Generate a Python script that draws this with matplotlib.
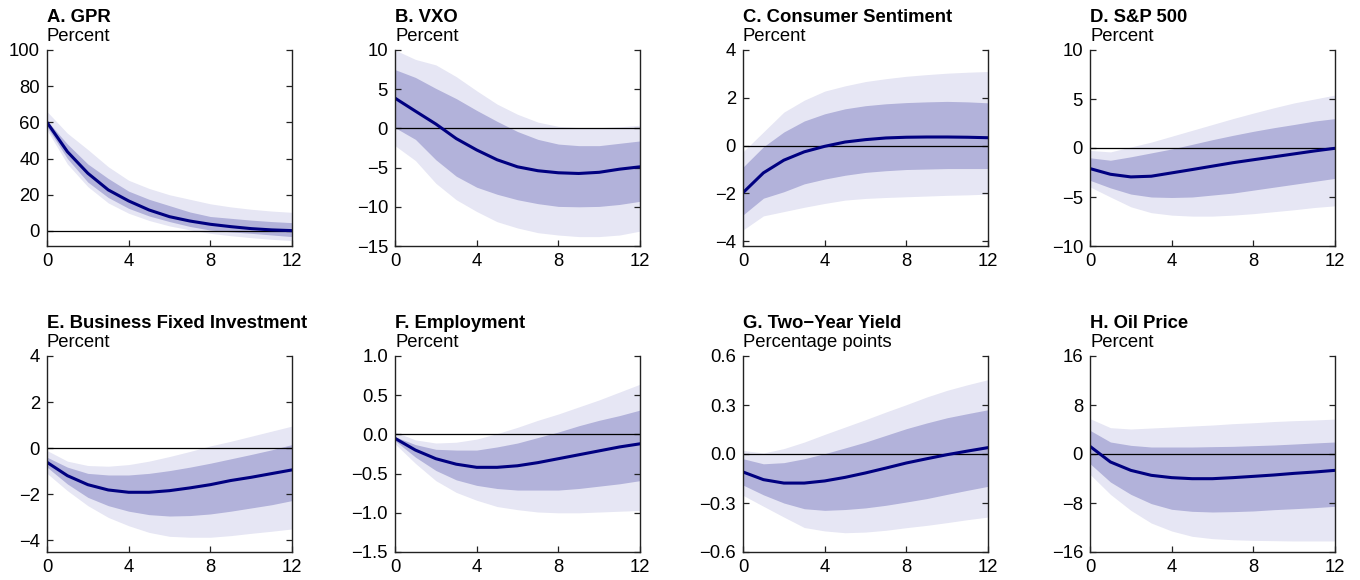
import numpy as np
import matplotlib
matplotlib.use("Agg")
import matplotlib.pyplot as plt
from matplotlib.ticker import FuncFormatter

plt.rcParams['font.family'] = ['Liberation Sans', 'DejaVu Sans']

horizon = list(range(13))

# A. GPR
gpr_med = [60, 43.8, 31.9, 22.7, 16.6, 11.6, 7.9, 5.5, 3.7, 2.4, 1.3, 0.6, 0.2]
gpr_in_hi = [61, 48, 37, 29, 22, 17.5, 14, 10.5, 8, 7, 6, 5.2, 4.6]
gpr_in_lo = [57.6, 40, 27, 18.5, 12.5, 8.3, 5.2, 2.5, 0.5, -0.5, -1.3, -2.2, -3.1]
gpr_out_hi = [66, 54, 45, 35.5, 28, 23.5, 20, 17.5, 15, 13.3, 12, 11, 10.3]
gpr_out_lo = [55.8, 37, 24.5, 15.5, 9.8, 5.8, 2.8, 0.6, -1.3, -2.6, -3.7, -4.6, -5.3]

# B. VXO
vxo_med = [3.86, 2.2, 0.56, -1.3, -2.75, -4.0, -4.9, -5.4, -5.66, -5.75, -5.6, -5.2, -4.9]
vxo_in_hi = [7.5, 6.5, 5.1, 3.8, 2.3, 0.9, -0.4, -1.4, -2.0, -2.2, -2.2, -1.9, -1.6]
vxo_in_lo = [0.1, -1.4, -4.0, -6.1, -7.5, -8.4, -9.1, -9.6, -9.95, -10.0, -9.95, -9.7, -9.3]
vxo_out_hi = [10.0, 8.8, 8.1, 6.6, 4.8, 3.1, 1.8, 0.8, 0.26, 0.1, 0.1, 0.2, 0.4]
vxo_out_lo = [-2.2, -4.1, -7.0, -9.1, -10.6, -11.9, -12.7, -13.3, -13.6, -13.8, -13.8, -13.6, -13.1]

# C. Consumer Sentiment
sent_med = [-1.97, -1.14, -0.61, -0.26, -0.03, 0.15, 0.25, 0.32, 0.35, 0.36, 0.36, 0.35, 0.33]
sent_in_hi = [-0.9, -0.05, 0.57, 1.03, 1.33, 1.54, 1.67, 1.75, 1.8, 1.83, 1.85, 1.83, 1.79]
sent_in_lo = [-2.9, -2.2, -1.93, -1.6, -1.4, -1.24, -1.12, -1.05, -1.0, -0.98, -0.96, -0.96, -0.96]
sent_out_hi = [-0.26, 0.57, 1.4, 1.9, 2.28, 2.5, 2.68, 2.8, 2.9, 2.97, 3.03, 3.07, 3.1]
sent_out_lo = [-3.53, -2.94, -2.76, -2.58, -2.42, -2.28, -2.21, -2.17, -2.14, -2.11, -2.08, -2.06, -2.03]

# D. S&P 500
sp_med = [-2.1, -2.68, -2.95, -2.88, -2.54, -2.2, -1.85, -1.5, -1.2, -0.9, -0.6, -0.3, -0.03]
sp_in_hi = [-1.0, -1.25, -0.9, -0.5, -0.1, 0.37, 0.85, 1.29, 1.7, 2.07, 2.4, 2.75, 3.0]
sp_in_lo = [-3.3, -4.07, -4.7, -5.0, -5.05, -5.0, -4.8, -4.6, -4.3, -4.0, -3.7, -3.4, -3.1]
sp_out_hi = [-0.25, -0.4, 0.1, 0.6, 1.2, 1.8, 2.4, 3.0, 3.56, 4.1, 4.6, 5.0, 5.4]
sp_out_lo = [-3.97, -5.0, -6.0, -6.6, -6.85, -6.95, -6.95, -6.85, -6.7, -6.5, -6.3, -6.07, -5.9]

# E. Business Fixed Investment
bfi_med = [-0.61, -1.19, -1.58, -1.81, -1.91, -1.91, -1.84, -1.72, -1.58, -1.4, -1.26, -1.1, -0.94]
bfi_in_hi = [-0.39, -0.82, -1.09, -1.16, -1.16, -1.09, -0.97, -0.82, -0.65, -0.46, -0.27, -0.07, 0.16]
bfi_in_lo = [-0.82, -1.55, -2.13, -2.49, -2.73, -2.88, -2.94, -2.92, -2.85, -2.73, -2.59, -2.45, -2.27]
bfi_out_hi = [-0.1, -0.56, -0.75, -0.78, -0.71, -0.56, -0.36, -0.14, 0.1, 0.3, 0.52, 0.74, 0.96]
bfi_out_lo = [-1.09, -1.84, -2.49, -3.0, -3.36, -3.65, -3.82, -3.86, -3.86, -3.79, -3.69, -3.6, -3.5]

# F. Employment
emp_med = [-0.05, -0.2, -0.31, -0.38, -0.42, -0.42, -0.4, -0.36, -0.31, -0.26, -0.21, -0.16, -0.12]
emp_in_hi = [-0.03, -0.13, -0.19, -0.2, -0.2, -0.16, -0.11, -0.04, 0.03, 0.11, 0.18, 0.24, 0.31]
emp_in_lo = [-0.08, -0.29, -0.46, -0.58, -0.65, -0.69, -0.71, -0.71, -0.71, -0.69, -0.66, -0.63, -0.59]
emp_out_hi = [0.03, -0.07, -0.11, -0.1, -0.06, 0.01, 0.09, 0.18, 0.26, 0.35, 0.44, 0.54, 0.64]
emp_out_lo = [-0.12, -0.37, -0.59, -0.74, -0.84, -0.92, -0.96, -0.99, -1.0, -1.0, -0.99, -0.98, -0.97]

# G. Two-Year Yield
yld_med = [-0.11, -0.157, -0.178, -0.178, -0.165, -0.143, -0.116, -0.086, -0.055, -0.029, -0.004, 0.018, 0.039]
yld_in_hi = [-0.029, -0.06, -0.053, -0.029, 0.002, 0.037, 0.073, 0.114, 0.155, 0.19, 0.222, 0.247, 0.271]
yld_in_lo = [-0.19, -0.25, -0.3, -0.335, -0.345, -0.34, -0.33, -0.314, -0.294, -0.273, -0.247, -0.222, -0.198]
yld_out_hi = [0.022, 0.006, 0.033, 0.073, 0.12, 0.165, 0.21, 0.257, 0.302, 0.349, 0.39, 0.424, 0.455]
yld_out_lo = [-0.253, -0.32, -0.386, -0.45, -0.471, -0.482, -0.478, -0.467, -0.451, -0.437, -0.42, -0.402, -0.386]

# H. Oil Price
oil_med = [1.25, -1.3, -2.67, -3.48, -3.86, -4.03, -4.03, -3.86, -3.65, -3.43, -3.16, -2.94, -2.67]
oil_in_hi = [3.86, 1.96, 1.41, 1.14, 1.14, 1.14, 1.2, 1.25, 1.36, 1.47, 1.63, 1.8, 1.96]
oil_in_lo = [-1.58, -4.57, -6.59, -8.1, -9.03, -9.36, -9.47, -9.41, -9.3, -9.09, -8.93, -8.76, -8.54]
oil_out_hi = [5.77, 4.3, 4.08, 4.24, 4.4, 4.57, 4.73, 4.95, 5.1, 5.3, 5.44, 5.55, 5.7]
oil_out_lo = [-3.32, -6.59, -9.2, -11.27, -12.57, -13.44, -13.82, -14.0, -14.1, -14.15, -14.2, -14.2, -14.2]

titles = ["A. GPR", "B. VXO", "C. Consumer Sentiment", "D. S&P 500",
          "E. Business Fixed Investment", "F. Employment", "G. Two\u2212Year Yield", "H. Oil Price"]
units = ["Percent", "Percent", "Percent", "Percent",
         "Percent", "Percent", "Percentage points", "Percent"]
yticks = [[0, 20, 40, 60, 80, 100], [-15, -10, -5, 0, 5, 10], [-4, -2, 0, 2, 4], [-10, -5, 0, 5, 10],
          [-4, -2, 0, 2, 4], [-1.5, -1.0, -0.5, 0.0, 0.5, 1.0], [-0.6, -0.3, 0.0, 0.3, 0.6], [-16, -8, 0, 8, 16]]
ylims = [(-8.3, 100), (-15, 10), (-4.2, 4), (-10, 10),
         (-4.5, 4), (-1.5, 1.0), (-0.6, 0.6), (-16, 16)]
decimal = [False, False, False, False, False, True, True, False]

series = [
    (gpr_med, gpr_in_lo, gpr_in_hi, gpr_out_lo, gpr_out_hi),
    (vxo_med, vxo_in_lo, vxo_in_hi, vxo_out_lo, vxo_out_hi),
    (sent_med, sent_in_lo, sent_in_hi, sent_out_lo, sent_out_hi),
    (sp_med, sp_in_lo, sp_in_hi, sp_out_lo, sp_out_hi),
    (bfi_med, bfi_in_lo, bfi_in_hi, bfi_out_lo, bfi_out_hi),
    (emp_med, emp_in_lo, emp_in_hi, emp_out_lo, emp_out_hi),
    (yld_med, yld_in_lo, yld_in_hi, yld_out_lo, yld_out_hi),
    (oil_med, oil_in_lo, oil_in_hi, oil_out_lo, oil_out_hi),
]

light = '#e6e6f4'
dark = '#b2b2da'
navy = '#000080'
fs = 13.3


def fmt_dec(v, pos):
    return f"{v:.1f}".replace('-', '\u2212')


fig = plt.figure(figsize=(13.6, 5.8), dpi=100)
W, H = 1360, 580
lefts = [47, 395, 743, 1090]
tops = [50, 356]
aw, ah = 245, 196

for i in range(8):
    r, c = divmod(i, 4)
    ax = fig.add_axes([lefts[c] / W, 1 - (tops[r] + ah) / H, aw / W, ah / H])
    med, ilo, ihi, olo, ohi = series[i]
    ax.fill_between(horizon, olo, ohi, color=light, lw=0)
    ax.fill_between(horizon, ilo, ihi, color=dark, lw=0)
    ax.axhline(0, color='black', lw=0.9)
    ax.plot(horizon, med, color=navy, lw=2.2)

    ax.set_xlim(0, 12)
    ax.set_xticks([0, 4, 8, 12])
    ax.set_ylim(*ylims[i])
    ax.set_yticks(yticks[i])
    if decimal[i]:
        ax.yaxis.set_major_formatter(FuncFormatter(fmt_dec))
    ax.spines['top'].set_visible(False)
    for s in ['left', 'right', 'bottom']:
        ax.spines[s].set_color('#222222')
        ax.spines[s].set_linewidth(1.0)
    ax.tick_params(axis='both', direction='in', length=4.5, width=0.9,
                   labelsize=fs, color='#222222')
    ax.tick_params(axis='y', right=True, pad=5)
    ax.tick_params(axis='x', pad=5)

    ax.text(0, 1 + 28 / ah, titles[i], transform=ax.transAxes, fontsize=fs,
            fontweight='bold', ha='left', va='baseline')
    ax.text(0, 1 + 9 / ah, units[i], transform=ax.transAxes, fontsize=fs,
            ha='left', va='baseline')

fig.savefig('out.png', dpi=100)
